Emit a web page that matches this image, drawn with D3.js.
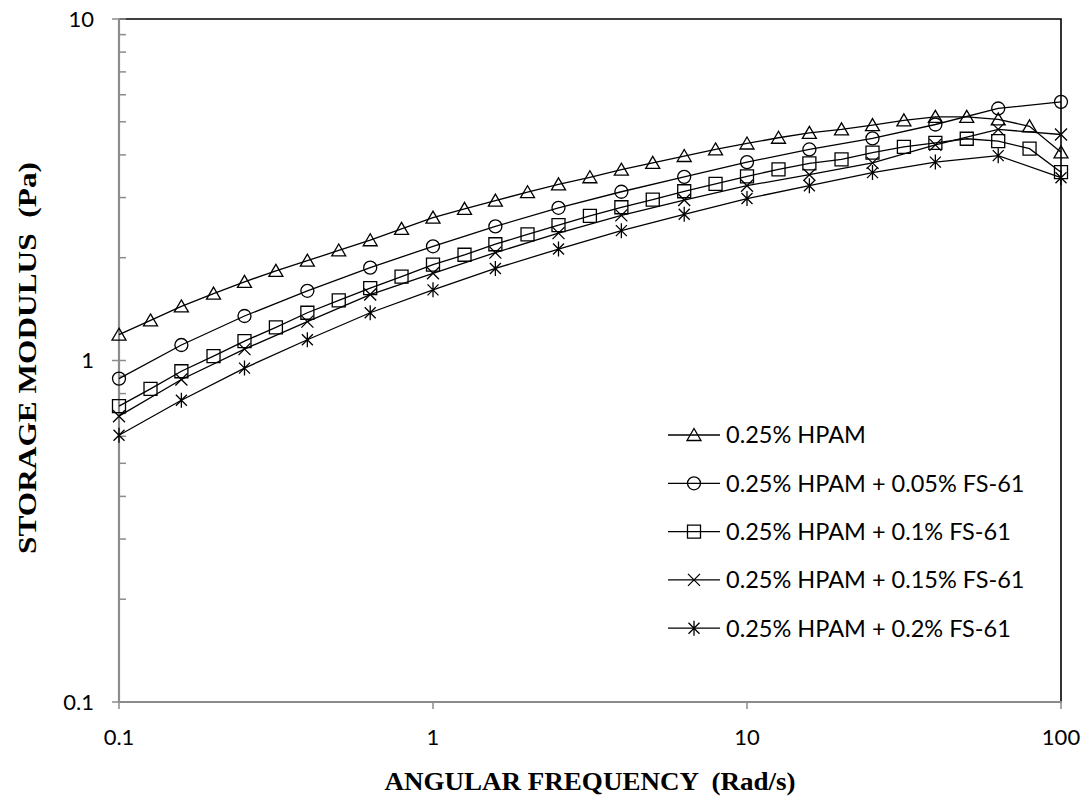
<!DOCTYPE html>
<html>
<head>
<meta charset="utf-8">
<script src="https://cdn.jsdelivr.net/npm/d3@7"></script>
<style>
  html, body { margin: 0; padding: 0; background: #fff; }
  svg { display: block; }
</style>
</head>
<body>
<svg id="chart" width="1091" height="798"></svg>
<script>
// Angular frequency grids (rad/s): ten and five points per decade
const freqFine = [0.1, 0.126, 0.158, 0.2, 0.251, 0.316, 0.398, 0.501, 0.631, 0.794,
                  1, 1.26, 1.58, 2, 2.51, 3.16, 3.98, 5.01, 6.31, 7.94,
                  10, 12.6, 15.8, 20, 25.1, 31.6, 39.8, 50.1, 63.1, 79.4, 100];
const freqCoarse = [0.1, 0.158, 0.251, 0.398, 0.631, 1, 1.58, 2.51, 3.98, 6.31,
                    10, 15.8, 25.1, 39.8, 63.1, 100];

// Storage modulus G' (Pa)
const hpam = [1.19, 1.31, 1.44, 1.57, 1.70, 1.83, 1.96, 2.10, 2.25, 2.43,
              2.62, 2.78, 2.94, 3.11, 3.28, 3.44, 3.62, 3.79, 3.97, 4.15,
              4.32, 4.49, 4.64, 4.75, 4.89, 5.05, 5.17, 5.17, 5.08, 4.85, 4.07];
const fs005 = [0.885, 1.11, 1.35, 1.60, 1.87, 2.16, 2.47, 2.80, 3.12, 3.45,
               3.81, 4.15, 4.47, 4.91, 5.47, 5.72];
const fs01 = [0.735, 0.826, 0.93, 1.03, 1.14, 1.25, 1.38, 1.50, 1.63, 1.76,
              1.91, 2.04, 2.19, 2.34, 2.49, 2.65, 2.81, 2.96, 3.13, 3.29,
              3.46, 3.63, 3.78, 3.88, 4.06, 4.22, 4.34, 4.46, 4.39, 4.17, 3.56];
const fs015 = [0.687, 0.88, 1.08, 1.30, 1.56, 1.80, 2.07, 2.36, 2.66, 2.95,
               3.25, 3.50, 3.79, 4.28, 4.75, 4.59];
const fs02 = [0.604, 0.765, 0.95, 1.15, 1.38, 1.61, 1.86, 2.12, 2.40, 2.68,
              2.98, 3.25, 3.55, 3.81, 3.98, 3.43];

const seriesNames = ["0.25% HPAM", "0.25% HPAM + 0.05% FS-61", "0.25% HPAM + 0.1% FS-61",
                     "0.25% HPAM + 0.15% FS-61", "0.25% HPAM + 0.2% FS-61"];
const xTicks = [0.1, 1, 10, 100];
const yTicks = [0.1, 1, 10];
const xTitle = "ANGULAR FREQUENCY  (Rad/s)";
const yTitle = "STORAGE MODULUS  (Pa)";

const series = [
  { name: seriesNames[0], x: freqFine,   y: hpam,  marker: "triangle" },
  { name: seriesNames[1], x: freqCoarse, y: fs005, marker: "circle" },
  { name: seriesNames[2], x: freqFine,   y: fs01,  marker: "square" },
  { name: seriesNames[3], x: freqCoarse, y: fs015, marker: "cross" },
  { name: seriesNames[4], x: freqCoarse, y: fs02,  marker: "star" }
];

// Plot area
const plotLeft = 119, plotRight = 1061, plotTop = 19, plotBottom = 702;
const svg = d3.select("#chart");

const x = d3.scaleLog().domain([0.1, 100]).range([plotLeft, plotRight]);
const y = d3.scaleLog().domain([0.1, 10]).range([plotBottom, plotTop]);

// Marker outlines, drawn around (0,0)
function markerPath(type) {
  const p = d3.path();
  if (type === "triangle") {
    p.moveTo(0, -6.5); p.lineTo(7, 5.5); p.lineTo(-7, 5.5); p.closePath();
  } else if (type === "circle") {
    p.moveTo(6.5, 0); p.arc(0, 0, 6.5, 0, 2 * Math.PI);
  } else if (type === "square") {
    p.rect(-6.5, -6.5, 13, 13);
  } else if (type === "cross") {
    p.moveTo(-6, -6); p.lineTo(6, 6); p.moveTo(-6, 6); p.lineTo(6, -6);
  } else if (type === "star") {
    p.moveTo(-5.5, -5.5); p.lineTo(5.5, 5.5); p.moveTo(-5.5, 5.5); p.lineTo(5.5, -5.5);
    p.moveTo(0, -7.5); p.lineTo(0, 7.5);
  }
  return p.toString();
}

const axisGrey = "#8c8c8c";
const labelFont = "Lato, 'Open Sans', sans-serif";

// Frame: top and right edges
svg.append("path")
  .attr("d", `M${plotLeft},${plotTop}H${plotRight}V${plotBottom}`)
  .attr("fill", "none").attr("stroke", "#000").attr("stroke-width", 1.6);

// Y axis: minor ticks inside, major ticks across the line
const yMinor = [];
for (let d = 0.1; d < 10; d *= 10) {
  for (let k = 2; k <= 9; k++) yMinor.push(+(k * d).toFixed(3));
}
const yAxisG = svg.append("g");
yAxisG.selectAll("line.minor").data(yMinor).join("line")
  .attr("class", "minor")
  .attr("x1", plotLeft).attr("x2", plotLeft + 7)
  .attr("y1", d => y(d)).attr("y2", d => y(d))
  .attr("stroke", axisGrey).attr("stroke-width", 1.5);
yAxisG.selectAll("line.major").data(yTicks).join("line")
  .attr("class", "major")
  .attr("x1", plotLeft - 7).attr("x2", plotLeft + 7)
  .attr("y1", d => y(d)).attr("y2", d => y(d))
  .attr("stroke", axisGrey).attr("stroke-width", 1.5);
yAxisG.append("line")
  .attr("x1", plotLeft).attr("x2", plotLeft).attr("y1", plotTop).attr("y2", plotBottom + 1)
  .attr("stroke", axisGrey).attr("stroke-width", 2.2);
yAxisG.selectAll("text").data(yTicks).join("text")
  .attr("x", 94).attr("y", d => y(d)).attr("dy", "0.36em")
  .attr("text-anchor", "end")
  .attr("font-family", labelFont).attr("font-size", 22).attr("fill", "#000")
  .text(d => d3.format("~g")(d));

// X axis: major ticks below the line
const xAxisG = svg.append("g");
xAxisG.selectAll("line").data(xTicks).join("line")
  .attr("x1", d => x(d)).attr("x2", d => x(d))
  .attr("y1", plotBottom).attr("y2", plotBottom + 7)
  .attr("stroke", axisGrey).attr("stroke-width", 1.5);
xAxisG.append("line")
  .attr("x1", plotLeft - 1).attr("x2", plotRight + 1).attr("y1", plotBottom).attr("y2", plotBottom)
  .attr("stroke", axisGrey).attr("stroke-width", 2.2);
xAxisG.selectAll("text").data(xTicks).join("text")
  .attr("x", d => x(d)).attr("y", 745)
  .attr("text-anchor", "middle")
  .attr("font-family", labelFont).attr("font-size", 22).attr("fill", "#000")
  .text(d => d3.format("~g")(d));

// Axis titles (double space before the unit is kept)
svg.append("text")
  .attr("x", 590).attr("y", 790)
  .attr("text-anchor", "middle")
  .style("white-space", "pre")
  .attr("font-family", "'Liberation Serif', 'Times New Roman', serif")
  .attr("font-weight", "bold").attr("font-size", 25)
  .attr("textLength", 411).attr("lengthAdjust", "spacingAndGlyphs")
  .text(xTitle);
svg.append("text")
  .attr("transform", "translate(36,358) rotate(-90)")
  .attr("text-anchor", "middle")
  .style("white-space", "pre")
  .attr("font-family", "'Liberation Serif', 'Times New Roman', serif")
  .attr("font-weight", "bold").attr("font-size", 25)
  .attr("textLength", 392).attr("lengthAdjust", "spacingAndGlyphs")
  .text(yTitle);

// Series lines and hollow markers
const line = d3.line().x(d => x(d[0])).y(d => y(d[1]));
const plot = svg.append("g");
series.forEach(s => {
  const pts = s.x.map((f, i) => [f, s.y[i]]);
  const g = plot.append("g");
  g.append("path").attr("d", line(pts))
    .attr("fill", "none").attr("stroke", "#000").attr("stroke-width", 1.3);
  g.selectAll("path.m").data(pts).join("path")
    .attr("class", "m")
    .attr("transform", d => `translate(${x(d[0])},${y(d[1])})`)
    .attr("d", markerPath(s.marker))
    .attr("fill", "none").attr("stroke", "#000").attr("stroke-width", 1.3);
});

// Legend
const legendX = 668, legendTop = 435, legendStep = 48.3;
const legend = svg.append("g");
series.forEach((s, i) => {
  const ly = legendTop + i * legendStep;
  legend.append("line")
    .attr("x1", legendX).attr("x2", legendX + 52).attr("y1", ly).attr("y2", ly)
    .attr("stroke", "#000").attr("stroke-width", 1.3);
  legend.append("path")
    .attr("transform", `translate(${legendX + 26},${ly})`)
    .attr("d", markerPath(s.marker))
    .attr("fill", "none").attr("stroke", "#000").attr("stroke-width", 1.3);
  legend.append("text")
    .attr("x", legendX + 58).attr("y", ly).attr("dy", "0.36em")
    .attr("font-family", labelFont).attr("font-size", 23.5).attr("fill", "#000")
    .text(s.name);
});
</script>
</body>
</html>
